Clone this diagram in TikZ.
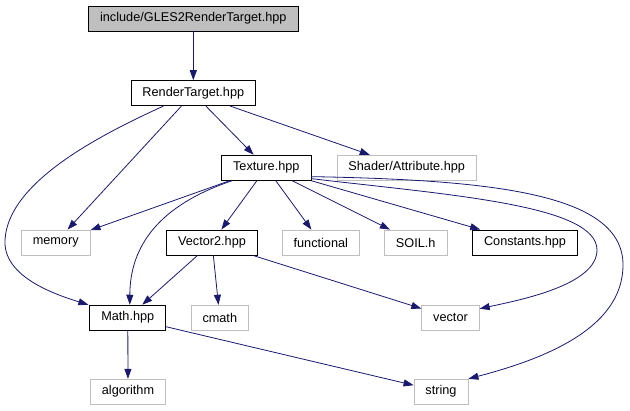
\documentclass[tikz,border=0pt]{standalone}
\usepackage{fontspec}
\setmainfont{Liberation Sans}
\usetikzlibrary{arrows.meta}
\definecolor{DGEdge}{HTML}{191970}
\definecolor{DGGray}{HTML}{BFBFBF}

\begin{document}
\begin{tikzpicture}[x=1pt,y=-1pt,
  file/.style={draw=black,line width=0.9pt,minimum height=25pt,inner xsep=11.5pt,inner ysep=0pt,font=\fontsize{12.7}{15}\selectfont},
  sysfile/.style={file,draw=DGGray,line width=0.8pt},
  rootfile/.style={file,fill=DGGray},
  dep/.style={DGEdge,line width=0.8pt,-{Triangle[length=10pt,width=7pt]}}]
\path[use as bounding box] (0,0) rectangle (630,411);
\node[rootfile] (gles) at (193.3,18.5) {include/GLES2RenderTarget.hpp};
\node[file] (rt) at (193.3,93.2) {RenderTarget.hpp};
\node[file] (tex) at (266.3,167.7) {Texture.hpp};
\node[sysfile] (shader) at (406.7,167.7) {Shader/Attribute.hpp};
\node[sysfile] (memory) at (55.7,242.5) {memory};
\node[file] (vec2) at (212,242.5) {Vector2.hpp};
\node[sysfile] (functional) at (320.8,242.5) {functional};
\node[sysfile] (soil) at (415.7,242.5) {SOIL.h};
\node[file] (consts) at (525,242.5) {Constants.hpp};
\node[file] (math) at (127.8,317.7) {Math.hpp};
\node[sysfile] (cmath) at (219.8,317.7) {cmath};
\node[sysfile] (vector) at (450.5,317.7) {vector};
\node[sysfile] (algorithm) at (128,391.7) {algorithm};
\node[sysfile] (string) at (441,391.7) {string};
% includes of GLES2RenderTarget and RenderTarget
\draw[dep] (gles) -- (rt);
\draw[dep] ([xshift=-30pt]rt.south) .. controls (100,135) and (8,182) .. (5,240)
  .. controls (3,275) and (50,293) .. ([xshift=-1pt]math.north west);
\draw[dep] (rt) -- (memory);
\draw[dep] (rt) -- (tex);
\draw[dep] (rt) -- (shader);
% includes of Texture
\draw[dep] (tex) -- (memory);
\draw[dep] ([xshift=-34pt]tex.south) .. controls (160,205) and (130,245) .. ([xshift=2pt]math.north);
\draw[dep] (tex) -- (vec2);
\draw[dep] (tex) -- (functional);
\draw[dep] (tex) -- (soil);
\draw[dep] (tex) -- (consts);
\draw[dep] ([yshift=2pt]tex.south east) .. controls (450,195) and (597,205) .. (597,250)
  .. controls (597,285) and (520,300) .. ([yshift=9pt]vector.east);
\draw[dep] ([yshift=4pt]tex.south east) .. controls (500,180) and (623,195) .. (623,265)
  .. controls (623,330) and (540,360) .. (string.north east);
% includes of Vector2 and Math
\draw[dep] (vec2) -- (math);
\draw[dep] (vec2) -- (cmath);
\draw[dep] (vec2) -- (vector);
\draw[dep] (math) -- (algorithm);
\draw[dep] (math) -- (string);
\end{tikzpicture}
\end{document}
